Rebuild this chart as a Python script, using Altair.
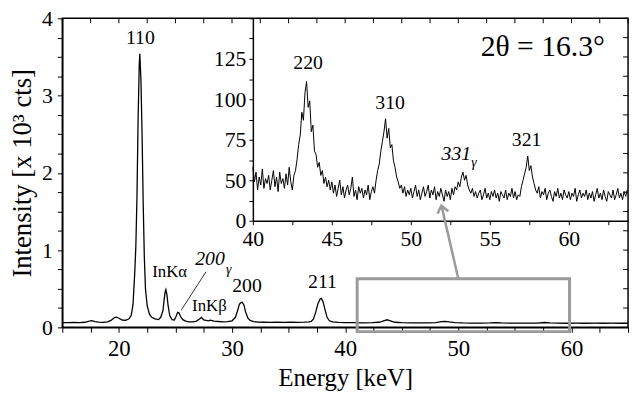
import altair as alt
import pandas as pd

FONT = "Liberation Serif"

# ---------------- main spectrum (Intensity in 10^3 counts) ----------------
main_energy = [15.0, 15.5, 16.0, 16.5, 17.0, 17.3, 17.6, 17.9, 18.2, 18.6,
               19.0, 19.3, 19.6, 19.8, 20.0, 20.3, 20.6, 20.9, 21.1, 21.25,
               21.4, 21.5, 21.6, 21.7, 21.8, 21.85, 21.95, 22.05, 22.15, 22.25,
               22.35, 22.5, 22.7, 22.9, 23.2, 23.5, 23.7, 23.9, 24.0, 24.1,
               24.15, 24.25, 24.35, 24.5, 24.7, 24.9, 25.05, 25.2, 25.3, 25.45,
               25.65, 25.9, 26.2, 26.5, 26.8, 27.1, 27.3, 27.5, 27.7, 27.9,
               28.1, 28.4, 28.8, 29.2, 29.6, 30.0, 30.3, 30.5, 30.65, 30.8,
               30.9, 31.05, 31.2, 31.4, 31.6, 31.9, 32.3, 32.8, 33.4, 34.0,
               34.6, 35.2, 35.8, 36.4, 36.8, 37.0, 37.2, 37.4, 37.6, 37.8,
               37.9, 38.05, 38.2, 38.4, 38.6, 38.9, 39.4, 40.0, 40.8, 41.6,
               42.4, 43.0, 43.4, 43.7, 44.0, 44.4, 45.0, 45.8, 46.6, 47.4,
               48.0, 48.5, 48.8, 49.2, 49.7, 50.4, 51.2, 52.0, 52.8, 53.3,
               53.8, 54.6, 55.4, 56.2, 57.0, 57.6, 58.1, 58.8, 59.6, 60.4,
               61.2, 62.0, 62.8, 63.6, 64.4, 65.0]
main_intensity = [0.062, 0.060, 0.064, 0.061, 0.066, 0.078, 0.086, 0.074, 0.067, 0.065,
                  0.070, 0.090, 0.125, 0.132, 0.118, 0.094, 0.092, 0.110, 0.16, 0.30,
                  0.70, 1.05, 1.70, 2.70, 3.40, 3.54, 3.20, 2.50, 1.60, 0.90,
                  0.50, 0.28, 0.17, 0.13, 0.11, 0.10, 0.13, 0.22, 0.36, 0.47,
                  0.49, 0.42, 0.28, 0.15, 0.10, 0.095, 0.14, 0.195, 0.19, 0.14,
                  0.10, 0.08, 0.072, 0.070, 0.078, 0.105, 0.128, 0.098, 0.092, 0.084,
                  0.094, 0.080, 0.076, 0.072, 0.074, 0.085, 0.13, 0.22, 0.30, 0.32,
                  0.325, 0.29, 0.20, 0.12, 0.09, 0.075, 0.068, 0.066, 0.064, 0.066,
                  0.064, 0.066, 0.065, 0.067, 0.070, 0.077, 0.11, 0.20, 0.31, 0.37,
                  0.375, 0.33, 0.24, 0.13, 0.085, 0.070, 0.064, 0.061, 0.060, 0.059,
                  0.060, 0.066, 0.085, 0.098, 0.085, 0.066, 0.060, 0.057, 0.057, 0.058,
                  0.062, 0.074, 0.078, 0.070, 0.062, 0.057, 0.056, 0.056, 0.058, 0.062,
                  0.058, 0.055, 0.055, 0.054, 0.056, 0.063, 0.057, 0.054, 0.053, 0.054,
                  0.053, 0.054, 0.053, 0.054, 0.053, 0.053]
assert len(main_energy) == len(main_intensity)

# ---------------- inset spectrum (counts, 0.1 keV channels from 40 keV) ----------------
inset_counts = [58, 49, 55, 44, 52, 47, 57, 45, 51, 48,
                53, 44, 50, 56, 46, 52, 43, 55, 48, 51,
                45, 54, 47, 58, 49, 44, 53, 56, 63, 72,
                78, 92, 87, 104, 111, 95, 99, 80, 84, 68,
                66, 58, 61, 53, 56, 48, 52, 46, 50, 44,
                49, 42, 47, 40, 45, 50, 41, 46, 39, 44,
                47, 41, 45, 52, 40, 44, 38, 46, 42, 45,
                39, 44, 41, 47, 38, 43, 46, 42, 50, 56,
                60, 68, 74, 80, 88, 76, 82, 70, 72, 62,
                58, 52, 49, 45, 47, 42, 46, 40, 44, 41,
                45, 39, 43, 47, 40, 44, 38, 42, 46, 40,
                43, 47, 39, 44, 41, 46, 38, 43, 40, 45,
                41, 37, 44, 40, 43, 38, 45, 41, 46, 44,
                49, 46, 52, 55, 50, 53, 47, 44, 42, 45,
                40, 43, 39, 42, 44, 38, 41, 45, 39, 42,
                38, 43, 40, 44, 39, 42, 37, 43, 41, 39,
                44, 38, 42, 40, 45, 39, 43, 38, 41, 40,
                46, 50, 54, 58, 65, 56, 59, 52, 48, 44,
                42, 46, 39, 43, 41, 45, 38, 42, 44, 40,
                37, 43, 40, 45, 39, 42, 38, 44, 41, 39,
                43, 38, 42, 40, 45, 37, 41, 44, 39, 42,
                40, 44, 38, 42, 39, 43, 37, 41, 45, 39,
                42, 38, 44, 40, 37, 43, 41, 39, 44, 38,
                41, 45, 39, 42, 38, 43, 40, 44]
inset_energy = [round(40.0 + 0.1 * i, 1) for i in range(len(inset_counts))]

# ---------------- ticks ----------------
main_x_ticks = [15, 17.5, 20, 22.5, 25, 27.5, 30, 32.5, 35, 37.5, 40, 42.5, 45,
                47.5, 50, 52.5, 55, 57.5, 60, 62.5, 65]
main_y_ticks = [0, 0.25, 0.5, 0.75, 1, 1.25, 1.5, 1.75, 2, 2.25, 2.5, 2.75, 3,
                3.25, 3.5, 3.75, 4]
inset_x_ticks = [40, 42.5, 45, 47.5, 50, 52.5, 55, 57.5, 60, 62.5]
inset_y_ticks = [25, 37.5, 50, 62.5, 75, 87.5, 100, 112.5, 125, 137.5, 150]

# ---------------- annotations ----------------
main_peak_text = ["110", "200", "211"]
main_peak_x = [21.9, 31.32, 38.0]
main_peak_y = [3.74, 0.54, 0.58]

fluor_text = ["InKα", "InKβ"]
fluor_x = [24.49, 28.0]
fluor_y = [0.71, 0.28]

gamma_main_text = ["200"]
gamma_main_x = [28.05]
gamma_main_y = [0.88]
gamma_main_sub_x = [29.7]
gamma_main_sub_y = [0.74]

leader_x = [27.7, 25.5]
leader_y = [0.72, 0.22]

zoom_box_x = [41.06]
zoom_box_x2 = [59.83]
zoom_box_y = [-0.055]
zoom_box_y2 = [0.63]

arrow_x = [50.0, 48.55]
arrow_y = [0.63, 1.55]
arrow_tip_x = [48.5]
arrow_tip_y = [1.575]

inset_peak_text = ["220", "310", "321"]
inset_peak_x = [43.5, 48.69, 57.33]
inset_peak_y = [122.5, 97.5, 74.5]

gamma_inset_text = ["331"]
gamma_inset_x = [52.88]
gamma_inset_y = [66.0]
gamma_inset_sub_x = [54.0]
gamma_inset_sub_y = [60.5]

angle_text = ["2θ = 16.3°"]
angle_x = [58.35]
angle_y = [132.0]

W, H = 573, 313
INSET_LEFT, INSET_BOTTOM = 193, 205
TICK = 5
GRAY = "#9a9a9a"

axis_common = dict(domainColor="black", domainWidth=1.5, tickColor="black",
                   tickWidth=1, grid=False, labelFont=FONT, labelColor="black",
                   labelOverlap=False, labelFlush=False, titleFont=FONT,
                   titleColor="black", titleFontWeight="normal")

xs = alt.Scale(domain=[15, 65], nice=False, zero=False)
ys = alt.Scale(domain=[0, 4], nice=False, zero=False)
xs_in = alt.Scale(domain=[40, 63.75], range=[INSET_LEFT, W], nice=False, zero=False)
ys_in = alt.Scale(domain=[25, 150], range=[INSET_BOTTOM, 0], nice=False, zero=False)

main_df = pd.DataFrame({"energy": main_energy, "intensity": main_intensity})

main_line = alt.Chart(main_df).mark_line(color="black", strokeWidth=1.3).encode(
    x=alt.X("energy:Q", scale=xs, axis=alt.Axis(
        orient="bottom", values=main_x_ticks,
        labelExpr="datum.value % 10 == 0 ? format(datum.value, 'd') : ''",
        labelFontSize=23, labelPadding=5, tickSize=TICK,
        title="Energy [keV]", titleFontSize=25, titlePadding=6, **axis_common)),
    y=alt.Y("intensity:Q", scale=ys, axis=alt.Axis(
        orient="left", values=main_y_ticks,
        labelExpr="datum.value % 1 == 0 ? format(datum.value, 'd') : ''",
        labelFontSize=22, labelPadding=5, tickSize=TICK,
        title="Intensity [x 10³ cts]", titleFontSize=27, titlePadding=5,
        **axis_common)),
)

# inward mirror ticks on the top and right edges of the frame
top_ticks = alt.Chart(pd.DataFrame({"t": main_x_ticks})).mark_rule(
    color="black", strokeWidth=1).encode(
    x=alt.X("t:Q", scale=xs, axis=None), y=alt.value(0), y2=alt.value(TICK))
right_ticks = alt.Chart(pd.DataFrame({"t": main_y_ticks})).mark_rule(
    color="black", strokeWidth=1).encode(
    y=alt.Y("t:Q", scale=ys, axis=None), x=alt.value(W - TICK), x2=alt.value(W))

box_df = pd.DataFrame({"x": zoom_box_x, "x2": zoom_box_x2, "y": zoom_box_y, "y2": zoom_box_y2})
box = alt.Chart(box_df).mark_rect(filled=False, stroke=GRAY, strokeWidth=3).encode(
    x=alt.X("x:Q", scale=xs, axis=None), x2="x2:Q",
    y=alt.Y("y:Q", scale=ys, axis=None), y2="y2:Q")

arrow_df = pd.DataFrame({"x": arrow_x, "y": arrow_y})
arrow = alt.Chart(arrow_df).mark_line(color=GRAY, strokeWidth=2.5).encode(
    x=alt.X("x:Q", scale=xs, axis=None), y=alt.Y("y:Q", scale=ys, axis=None))

tip_df = pd.DataFrame({"x": arrow_tip_x, "y": arrow_tip_y})
tip = alt.Chart(tip_df).mark_point(shape="M -0.8 1 L 0 0 L 0.8 1", filled=False,
                                   size=200, angle=347, color=GRAY, strokeWidth=2.5,
                                   opacity=1).encode(
    x=alt.X("x:Q", scale=xs, axis=None), y=alt.Y("y:Q", scale=ys, axis=None))

leader_df = pd.DataFrame({"x": leader_x, "y": leader_y})
leader = alt.Chart(leader_df).mark_line(color="black", strokeWidth=0.8).encode(
    x=alt.X("x:Q", scale=xs, axis=None), y=alt.Y("y:Q", scale=ys, axis=None))


def text_layer(texts, xv, yv, xscale, yscale, size, style="normal"):
    df = pd.DataFrame({"t": texts, "x": xv, "y": yv})
    return alt.Chart(df).mark_text(font=FONT, fontSize=size, fontStyle=style,
                                   color="black", align="center",
                                   baseline="middle").encode(
        x=alt.X("x:Q", scale=xscale, axis=None),
        y=alt.Y("y:Q", scale=yscale, axis=None),
        text="t:N")


# ---------------- inset ----------------
inset_df = pd.DataFrame({"energy": inset_energy, "counts": inset_counts})
inset_line = alt.Chart(inset_df).mark_line(color="black", strokeWidth=1.0).encode(
    x=alt.X("energy:Q", scale=xs_in, axis=alt.Axis(
        orient="bottom", offset=INSET_BOTTOM - H, values=inset_x_ticks,
        labelExpr="datum.value % 5 == 0 ? format(datum.value, 'd') : ''",
        labelFontSize=22, labelPadding=4, tickSize=4, title="", **axis_common)),
    y=alt.Y("counts:Q", scale=ys_in, axis=alt.Axis(
        orient="left", offset=-INSET_LEFT, values=inset_y_ticks,
        labelExpr="datum.value == 25 ? '0' : (datum.value % 25 == 0 && datum.value < 150 ? format(datum.value, 'd') : '')",
        labelFontSize=22, labelPadding=3, tickSize=4, title="", **axis_common)),
)

chart = alt.layer(
    main_line, top_ticks, right_ticks,
    box, arrow, tip, leader,
    text_layer(main_peak_text, main_peak_x, main_peak_y, xs, ys, 20),
    text_layer(fluor_text, fluor_x, fluor_y, xs, ys, 17),
    text_layer(gamma_main_text, gamma_main_x, gamma_main_y, xs, ys, 20, "italic"),
    text_layer(["γ"], gamma_main_sub_x, gamma_main_sub_y, xs, ys, 14, "italic"),
    inset_line,
    text_layer(inset_peak_text, inset_peak_x, inset_peak_y, xs_in, ys_in, 20),
    text_layer(gamma_inset_text, gamma_inset_x, gamma_inset_y, xs_in, ys_in, 20, "italic"),
    text_layer(["γ"], gamma_inset_sub_x, gamma_inset_sub_y, xs_in, ys_in, 14, "italic"),
    text_layer(angle_text, angle_x, angle_y, xs_in, ys_in, 30),
).resolve_scale(
    x="independent", y="independent"
).properties(
    width=W, height=H,
    padding={"left": 55, "top": 8, "right": 4, "bottom": 62},
    autosize=alt.AutoSizeParams(type="none"),
    background="white",
).configure_view(stroke="black", strokeWidth=1.5)

chart.save("out.html", embed_options={"renderer": "svg", "actions": False})
